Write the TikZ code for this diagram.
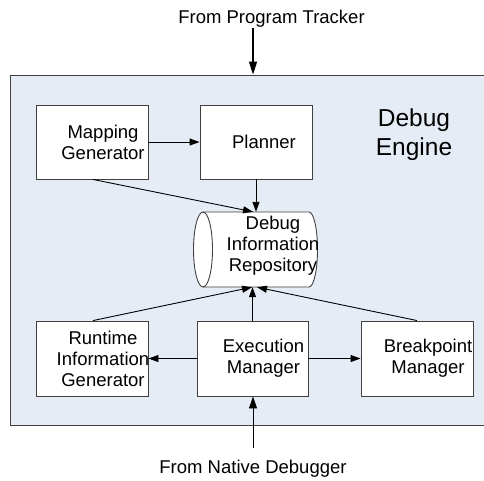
\documentclass[tikz,border=0pt]{standalone}
\usepackage{fontspec}
\setmainfont{Liberation Sans}
\usetikzlibrary{arrows.meta}
\definecolor{enginefill}{HTML}{E6ECF6}
\definecolor{edgegray}{HTML}{404040}

\tikzset{
  blk/.style={draw=edgegray, fill=white, line width=0.9pt, minimum width=112pt, minimum height=74pt, inner sep=0pt},
  lbl/.style={font=\fontsize{18.5}{21}\selectfont, align=center, inner sep=0pt, xshift=11pt},
  flow/.style={->, line width=0.9pt}
}

\begin{document}
\begin{tikzpicture}[x=1pt, y=-1pt, >={Triangle[length=10pt,width=7pt]}]

  \clip (0,0) rectangle (484,480);
  \fill[white] (0,0) rectangle (484,480);

  % Debug engine frame
  \filldraw[fill=enginefill, draw=edgegray, line width=0.9pt] (10,75) rectangle (495,425);
  \node[font=\fontsize{24.5}{29}\selectfont, align=center, inner sep=0pt] (title) at (414,134.5) {Debug\\Engine};

  % ==================== BLOCKS ====================
  \node[blk] (map) at (92,142) {};
  \node[lbl] (mapT) at (map.center) {Mapping\\Generator};

  \node[blk] (plan) at (256,142) {};
  \node[lbl, xshift=-3pt] (planT) at (plan.center) {Planner};

  \node[blk, minimum height=75pt] (rt) at (92,358.5) {};
  \node[lbl] (rtT) at (rt.center) {Runtime\\Information\\Generator};

  \node[blk, minimum height=75pt, minimum width=111pt] (exec) at (252.5,358.5) {};
  \node[lbl] (execT) at (exec.center) {Execution\\Manager};

  \node[blk, minimum height=75pt] (bp) at (417,358.5) {};
  \node[lbl] (bpT) at (bp.center) {Breakpoint\\Manager};

  % Repository (lying cylinder)
  \node[minimum width=124pt, minimum height=75pt, inner sep=0pt] (repo) at (256,249.5) {};
  \filldraw[fill=white, draw=edgegray, line width=0.9pt]
    (203,212) -- (309,212) arc[start angle=90, end angle=-90, x radius=8.5, y radius=-37.5]
    -- (203,287) arc[start angle=-90, end angle=-270, x radius=9.5, y radius=-37.5] -- cycle;
  \draw[edgegray, line width=0.9pt] (203,212) arc[start angle=90, end angle=-90, x radius=9.5, y radius=-37.5];
  \node[lbl, xshift=6pt, yshift=4pt] (repoT) at (repo.center) {Debug\\Information\\Repository};

  % ==================== CONNECTORS ====================
  \node[font=\fontsize{18.5}{21}\selectfont, inner sep=0pt] (tracker) at (271.5,19) {From Program Tracker};
  \node[font=\fontsize{18.5}{21}\selectfont, inner sep=0pt] (native) at (253,469) {From Native Debugger};
  \coordinate (trackerEnd) at (253,28);
  \coordinate (nativeEnd) at (253,448);

  \draw[->, line width=1.6pt, >={Triangle[length=13pt,width=8pt]}] (trackerEnd) -- (253,74.5);
  \draw[flow, >={Triangle[length=12pt,width=8pt]}] (nativeEnd) -- (exec.south -| nativeEnd);

  \draw[flow] (map.east) -- (plan.west);
  \draw[flow] ([xshift=1pt]map.south) -- ([xshift=-3pt]repo.north);
  \draw[flow] (plan.south) -- (repo.north);
  \draw[flow] ([xshift=1pt]rt.north) -- ([xshift=-4pt]repo.south);
  \draw[flow] (exec.north) -- (exec.north |- repo.south);
  \draw[flow] (bp.north) -- ([xshift=1pt]repo.south);
  \draw[flow] (exec.west) -- (rt.east);
  \draw[flow] (exec.east) -- (bp.west);

\end{tikzpicture}
\end{document}
